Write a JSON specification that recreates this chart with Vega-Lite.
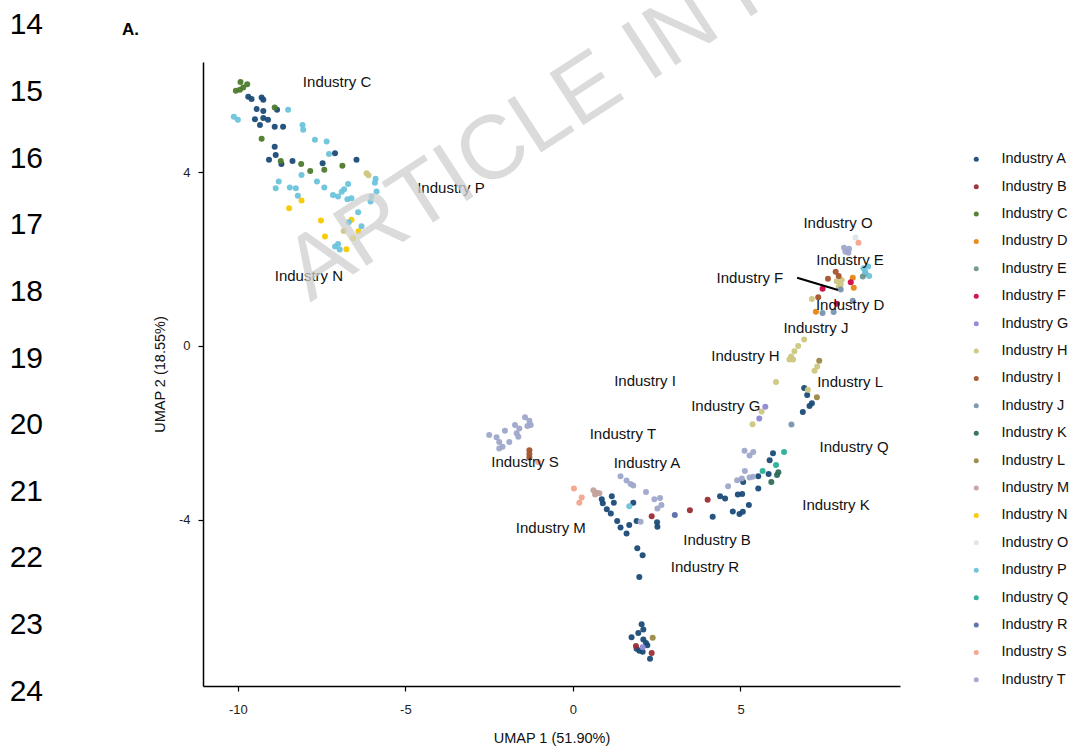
{
  "$schema": "https://vega.github.io/schema/vega-lite/v6.json",
  "width": 697,
  "height": 624,
  "autosize": {"type": "none"},
  "padding": {"left": 203, "top": 62, "right": 172, "bottom": 60},
  "background": "white",
  "config": {
    "view": {"stroke": null},
    "font": "Liberation Sans",
    "axis": {"grid": false, "domainColor": "#000", "domainWidth": 1.5, "tickColor": "#000", "tickWidth": 1.2, "tickSize": 5, "labelColor": "#222", "labelFontSize": 13, "titleFontSize": 14.5, "titleFontWeight": "normal", "titleColor": "#111", "labelFont": "Liberation Sans", "titleFont": "Liberation Sans"},
    "legend": {"labelFontSize": 14.5, "labelFont": "Liberation Sans", "labelColor": "#111", "symbolSize": 25, "symbolType": "circle", "rowPadding": 12.4, "labelOffset": 18, "symbolStrokeWidth": 0}
  },
  "datasets": {
    "pts": [
      {"x":-9.69,"y":5.74,"g":"Industry A"},{"x":-9.59,"y":5.69,"g":"Industry A"},{"x":-9.29,"y":5.72,"g":"Industry A"},{"x":-9.24,"y":5.67,"g":"Industry A"},{"x":-8.83,"y":5.44,"g":"Industry A"},{"x":-9.44,"y":5.46,"g":"Industry A"},{"x":-9.24,"y":5.41,"g":"Industry A"},{"x":-9.49,"y":5.22,"g":"Industry A"},{"x":-9.24,"y":5.25,"g":"Industry A"},{"x":-9.10,"y":5.21,"g":"Industry A"},{"x":-9.34,"y":5.09,"g":"Industry A"},{"x":-8.90,"y":5.05,"g":"Industry A"},{"x":-8.65,"y":5.05,"g":"Industry A"},{"x":-8.90,"y":4.59,"g":"Industry A"},{"x":-7.10,"y":4.44,"g":"Industry A"},{"x":-8.87,"y":4.40,"g":"Industry A"},{"x":-9.07,"y":4.29,"g":"Industry A"},{"x":-8.70,"y":4.19,"g":"Industry A"},{"x":-8.37,"y":4.26,"g":"Industry A"},{"x":-7.47,"y":4.21,"g":"Industry A"},{"x":-6.46,"y":4.29,"g":"Industry A"},
      {"x":0.86,"y":-3.53,"g":"Industry A"},{"x":0.89,"y":-3.62,"g":"Industry A"},{"x":1.16,"y":-3.46,"g":"Industry A"},{"x":1.22,"y":-3.61,"g":"Industry A"},{"x":1.01,"y":-3.76,"g":"Industry A"},{"x":1.13,"y":-3.86,"g":"Industry A"},{"x":1.32,"y":-4.03,"g":"Industry A"},{"x":1.42,"y":-4.18,"g":"Industry A"},{"x":1.60,"y":-4.32,"g":"Industry A"},{"x":1.68,"y":-4.12,"g":"Industry A"},{"x":1.90,"y":-4.03,"g":"Industry A"},{"x":1.80,"y":-3.61,"g":"Industry A"},{"x":2.51,"y":-4.06,"g":"Industry A"},{"x":2.52,"y":-4.16,"g":"Industry A"},{"x":1.92,"y":-4.66,"g":"Industry A"},{"x":2.08,"y":-4.82,"g":"Industry A"},{"x":1.98,"y":-5.32,"g":"Industry A"},{"x":4.17,"y":-3.93,"g":"Industry A"},{"x":4.39,"y":-3.46,"g":"Industry A"},{"x":4.54,"y":-3.51,"g":"Industry A"},{"x":4.77,"y":-3.81,"g":"Industry A"},{"x":4.97,"y":-3.87,"g":"Industry A"},{"x":5.07,"y":-3.82,"g":"Industry A"},{"x":5.25,"y":-3.66,"g":"Industry A"},{"x":4.92,"y":-3.42,"g":"Industry A"},{"x":5.05,"y":-3.41,"g":"Industry A"},{"x":5.08,"y":-3.13,"g":"Industry A"},{"x":5.53,"y":-3.28,"g":"Industry A"},{"x":5.53,"y":-3.00,"g":"Industry A"},{"x":5.84,"y":-2.95,"g":"Industry A"},{"x":5.87,"y":-2.63,"g":"Industry A"},{"x":5.97,"y":-2.47,"g":"Industry A"},
      {"x":2.05,"y":-6.41,"g":"Industry A"},{"x":2.10,"y":-6.53,"g":"Industry A"},{"x":1.95,"y":-6.61,"g":"Industry A"},{"x":1.75,"y":-6.71,"g":"Industry A"},{"x":2.10,"y":-6.76,"g":"Industry A"},{"x":2.18,"y":-6.84,"g":"Industry A"},{"x":1.90,"y":-6.97,"g":"Industry A"},{"x":1.98,"y":-7.02,"g":"Industry A"},{"x":2.08,"y":-7.04,"g":"Industry A"},{"x":2.30,"y":-7.20,"g":"Industry A"},{"x":2.22,"y":-6.89,"g":"Industry A"},
      {"x":6.90,"y":-0.97,"g":"Industry A"},{"x":6.99,"y":-1.13,"g":"Industry A"},{"x":7.13,"y":-1.32,"g":"Industry A"},{"x":7.06,"y":-1.38,"g":"Industry A"},{"x":6.86,"y":-1.52,"g":"Industry A"},
      {"x":2.35,"y":-3.92,"g":"Industry B"},{"x":3.49,"y":-3.78,"g":"Industry B"},{"x":4.02,"y":-3.54,"g":"Industry B"},{"x":1.88,"y":-6.91,"g":"Industry B"},{"x":2.35,"y":-7.07,"g":"Industry B"},
      {"x":-9.92,"y":6.08,"g":"Industry C"},{"x":-9.72,"y":6.03,"g":"Industry C"},{"x":-10.06,"y":5.88,"g":"Industry C"},{"x":-9.94,"y":5.90,"g":"Industry C"},{"x":-9.84,"y":5.95,"g":"Industry C"},{"x":-8.90,"y":5.49,"g":"Industry C"},{"x":-9.29,"y":4.77,"g":"Industry C"},{"x":-8.72,"y":4.26,"g":"Industry C"},{"x":-8.11,"y":4.19,"g":"Industry C"},{"x":-6.88,"y":4.15,"g":"Industry C"},{"x":-7.84,"y":4.03,"g":"Industry C"},{"x":-7.42,"y":4.06,"g":"Industry C"},
      {"x":8.35,"y":1.57,"g":"Industry D"},{"x":8.38,"y":1.34,"g":"Industry D"},{"x":7.25,"y":0.79,"g":"Industry D"},
      {"x":8.65,"y":1.60,"g":"Industry E"},{"x":8.73,"y":1.67,"g":"Industry E"},
      {"x":8.29,"y":1.47,"g":"Industry F"},{"x":7.45,"y":1.32,"g":"Industry F"},{"x":7.88,"y":0.97,"g":"Industry F"},
      {"x":5.74,"y":-1.40,"g":"Industry G"},{"x":5.56,"y":-1.67,"g":"Industry G"},{"x":2.08,"y":-6.94,"g":"Industry G"},
      {"x":-6.16,"y":3.98,"g":"Industry H"},{"x":-6.10,"y":3.93,"g":"Industry H"},{"x":-6.84,"y":2.65,"g":"Industry H"},{"x":7.87,"y":1.49,"g":"Industry H"},{"x":7.99,"y":1.41,"g":"Industry H"},{"x":8.02,"y":1.52,"g":"Industry H"},{"x":7.93,"y":1.36,"g":"Industry H"},{"x":7.13,"y":1.08,"g":"Industry H"},{"x":6.90,"y":0.15,"g":"Industry H"},{"x":6.72,"y":0.0,"g":"Industry H"},{"x":6.61,"y":-0.12,"g":"Industry H"},{"x":6.51,"y":-0.24,"g":"Industry H"},{"x":6.46,"y":-0.31,"g":"Industry H"},{"x":6.57,"y":-0.31,"g":"Industry H"},{"x":7.29,"y":-0.47,"g":"Industry H"},{"x":7.21,"y":-0.57,"g":"Industry H"},{"x":6.06,"y":-0.83,"g":"Industry H"},{"x":7.01,"y":-1.01,"g":"Industry H"},{"x":5.63,"y":-1.51,"g":"Industry H"},{"x":5.36,"y":-1.80,"g":"Industry H"},
      {"x":7.61,"y":1.55,"g":"Industry I"},{"x":7.84,"y":1.71,"g":"Industry I"},{"x":7.93,"y":1.61,"g":"Industry I"},{"x":7.32,"y":1.12,"g":"Industry I"},{"x":-1.30,"y":-2.40,"g":"Industry I"},{"x":-1.30,"y":-2.49,"g":"Industry I"},{"x":-1.30,"y":-2.57,"g":"Industry I"},
      {"x":7.99,"y":1.30,"g":"Industry J"},{"x":7.45,"y":0.76,"g":"Industry J"},{"x":7.78,"y":0.78,"g":"Industry J"},{"x":8.35,"y":1.04,"g":"Industry J"},{"x":6.52,"y":-1.81,"g":"Industry J"},
      {"x":5.92,"y":-3.13,"g":"Industry K"},{"x":6.09,"y":-2.97,"g":"Industry K"},{"x":6.13,"y":-2.91,"g":"Industry K"},
      {"x":7.35,"y":-0.34,"g":"Industry L"},{"x":7.28,"y":-1.18,"g":"Industry L"},{"x":2.38,"y":-6.72,"g":"Industry L"},
      {"x":0.61,"y":-3.32,"g":"Industry M"},{"x":0.71,"y":-3.38,"g":"Industry M"},{"x":0.79,"y":-3.39,"g":"Industry M"},{"x":0.66,"y":-3.42,"g":"Industry M"},
      {"x":-8.10,"y":3.35,"g":"Industry N"},{"x":-8.47,"y":3.17,"g":"Industry N"},{"x":-7.52,"y":2.89,"g":"Industry N"},{"x":-7.40,"y":2.52,"g":"Industry N"},{"x":-6.76,"y":2.23,"g":"Industry N"},{"x":-6.61,"y":2.91,"g":"Industry N"},{"x":-6.40,"y":2.64,"g":"Industry N"},{"x":-6.56,"y":2.48,"g":"Industry N"},
      {"x":8.43,"y":2.50,"g":"Industry O"},
      {"x":-10.12,"y":5.28,"g":"Industry P"},{"x":-10.00,"y":5.21,"g":"Industry P"},{"x":-8.50,"y":5.44,"g":"Industry P"},{"x":-8.07,"y":5.09,"g":"Industry P"},{"x":-8.05,"y":4.98,"g":"Industry P"},{"x":-7.70,"y":4.75,"g":"Industry P"},{"x":-7.35,"y":4.71,"g":"Industry P"},{"x":-7.28,"y":4.42,"g":"Industry P"},{"x":-8.10,"y":3.94,"g":"Industry P"},{"x":-8.78,"y":3.79,"g":"Industry P"},{"x":-8.87,"y":3.63,"g":"Industry P"},{"x":-8.45,"y":3.65,"g":"Industry P"},{"x":-8.27,"y":3.63,"g":"Industry P"},{"x":-8.21,"y":3.46,"g":"Industry P"},{"x":-7.64,"y":3.79,"g":"Industry P"},{"x":-7.42,"y":3.65,"g":"Industry P"},{"x":-7.16,"y":3.48,"g":"Industry P"},{"x":-7.01,"y":3.44,"g":"Industry P"},{"x":-6.83,"y":3.61,"g":"Industry P"},{"x":-6.71,"y":3.73,"g":"Industry P"},{"x":-6.90,"y":3.55,"g":"Industry P"},{"x":-6.73,"y":3.38,"g":"Industry P"},{"x":-6.61,"y":3.40,"g":"Industry P"},{"x":-5.89,"y":3.85,"g":"Industry P"},{"x":-5.91,"y":3.76,"g":"Industry P"},{"x":-5.86,"y":3.56,"g":"Industry P"},{"x":-6.01,"y":3.44,"g":"Industry P"},{"x":-6.04,"y":3.33,"g":"Industry P"},{"x":-6.41,"y":3.08,"g":"Industry P"},{"x":-6.69,"y":2.85,"g":"Industry P"},{"x":-6.31,"y":2.76,"g":"Industry P"},{"x":-7.10,"y":2.29,"g":"Industry P"},{"x":-6.96,"y":2.22,"g":"Industry P"},{"x":-7.01,"y":2.35,"g":"Industry P"},
      {"x":8.67,"y":1.79,"g":"Industry P"},{"x":8.81,"y":1.83,"g":"Industry P"},{"x":8.84,"y":1.61,"g":"Industry P"},{"x":8.72,"y":1.71,"g":"Industry P"},{"x":1.68,"y":-3.69,"g":"Industry P"},
      {"x":6.30,"y":-2.44,"g":"Industry Q"},{"x":6.06,"y":-2.74,"g":"Industry Q"},{"x":5.66,"y":-2.88,"g":"Industry Q"},
      {"x":3.04,"y":-3.89,"g":"Industry R"},
      {"x":0.03,"y":-3.28,"g":"Industry S"},{"x":0.26,"y":-3.49,"g":"Industry S"},{"x":0.19,"y":-3.61,"g":"Industry S"},{"x":8.52,"y":2.38,"g":"Industry S"},{"x":-1.04,"y":-2.67,"g":"Industry S"},
      {"x":8.09,"y":2.26,"g":"Industry T"},{"x":8.24,"y":2.24,"g":"Industry T"},{"x":8.22,"y":2.15,"g":"Industry T"},{"x":8.13,"y":2.17,"g":"Industry T"},
      {"x":-2.50,"y":-2.05,"g":"Industry T"},{"x":-2.28,"y":-2.10,"g":"Industry T"},{"x":-2.20,"y":-2.21,"g":"Industry T"},{"x":-2.10,"y":-2.32,"g":"Industry T"},{"x":-2.20,"y":-2.36,"g":"Industry T"},{"x":-2.03,"y":-1.95,"g":"Industry T"},{"x":-1.90,"y":-2.21,"g":"Industry T"},{"x":-1.73,"y":-1.82,"g":"Industry T"},{"x":-1.60,"y":-1.90,"g":"Industry T"},{"x":-1.68,"y":-2.01,"g":"Industry T"},{"x":-1.43,"y":-1.64,"g":"Industry T"},{"x":-1.30,"y":-1.72,"g":"Industry T"},{"x":-1.26,"y":-1.82,"g":"Industry T"},{"x":-1.36,"y":-1.84,"g":"Industry T"},{"x":-1.63,"y":-2.09,"g":"Industry T"},
      {"x":1.42,"y":-3.00,"g":"Industry T"},{"x":1.60,"y":-3.10,"g":"Industry T"},{"x":1.72,"y":-3.18,"g":"Industry T"},{"x":1.80,"y":-3.21,"g":"Industry T"},{"x":2.18,"y":-3.36,"g":"Industry T"},{"x":2.43,"y":-3.53,"g":"Industry T"},{"x":2.60,"y":-3.50,"g":"Industry T"},{"x":2.64,"y":-3.66,"g":"Industry T"},{"x":2.52,"y":-3.74,"g":"Industry T"},{"x":2.02,"y":-4.05,"g":"Industry T"},
      {"x":4.63,"y":-3.23,"g":"Industry T"},{"x":4.90,"y":-3.09,"g":"Industry T"},{"x":5.04,"y":-3.05,"g":"Industry T"},{"x":5.13,"y":-2.88,"g":"Industry T"},{"x":5.27,"y":-3.03,"g":"Industry T"},{"x":5.37,"y":-3.01,"g":"Industry T"},{"x":5.12,"y":-2.41,"g":"Industry T"},{"x":5.38,"y":-2.44,"g":"Industry T"},{"x":5.27,"y":-2.52,"g":"Industry T"}
    ],
    "labels": [
      {"x":-7.04,"y":6.08,"t":"Industry C"},{"x":-3.64,"y":3.64,"t":"Industry P"},{"x":-7.88,"y":1.61,"t":"Industry N"},{"x":7.91,"y":2.83,"t":"Industry O"},{"x":8.27,"y":1.98,"t":"Industry E"},{"x":5.28,"y":1.57,"t":"Industry F"},{"x":8.27,"y":0.94,"t":"Industry D"},{"x":7.25,"y":0.41,"t":"Industry J"},{"x":5.15,"y":-0.23,"t":"Industry H"},{"x":2.15,"y":-0.81,"t":"Industry I"},{"x":8.27,"y":-0.83,"t":"Industry L"},{"x":4.56,"y":-1.38,"t":"Industry G"},{"x":1.49,"y":-2.02,"t":"Industry T"},{"x":8.39,"y":-2.33,"t":"Industry Q"},{"x":-1.43,"y":-2.67,"t":"Industry S"},{"x":2.21,"y":-2.69,"t":"Industry A"},{"x":7.85,"y":-3.66,"t":"Industry K"},{"x":-0.66,"y":-4.19,"t":"Industry M"},{"x":4.30,"y":-4.47,"t":"Industry B"},{"x":3.94,"y":-5.09,"t":"Industry R"}
    ],
    "lines": [
      {"n":"14","x":-16.81,"y":7.40},{"n":"15","x":-16.81,"y":5.85},{"n":"16","x":-16.81,"y":4.31},{"n":"17","x":-16.81,"y":2.79},{"n":"18","x":-16.81,"y":1.24},{"n":"19","x":-16.81,"y":-0.30},{"n":"20","x":-16.81,"y":-1.82},{"n":"21","x":-16.81,"y":-3.36},{"n":"22","x":-16.81,"y":-4.88},{"n":"23","x":-16.81,"y":-6.43},{"n":"24","x":-16.81,"y":-7.97}
    ]
  },
  "layer": [
    {
      "data": {"name": "pts"},
      "mark": {"type": "circle", "size": 36, "opacity": 0.95},
      "encoding": {
        "x": {"field": "x", "type": "quantitative", "scale": {"domain": [-11.04, 9.76], "nice": false, "zero": false}, "axis": {"values": [-10, -5, 0, 5], "labelExpr": "replace(datum.label, '−', '-')", "title": "UMAP 1 (51.90%)", "labelPadding": 12, "titlePadding": 15}},
        "y": {"field": "y", "type": "quantitative", "scale": {"domain": [-7.83, 6.54], "nice": false, "zero": false}, "axis": {"values": [-4, 0, 4], "labelExpr": "replace(datum.label, '−', '-')", "title": "UMAP 2 (18.55%)", "labelPadding": 8, "titlePadding": 11}},
        "color": {"field": "g", "type": "nominal", "scale": {"domain": ["Industry A","Industry B","Industry C","Industry D","Industry E","Industry F","Industry G","Industry H","Industry I","Industry J","Industry K","Industry L","Industry M","Industry N","Industry O","Industry P","Industry Q","Industry R","Industry S","Industry T"], "range": ["#1b4b78","#9a2d35","#4e7a2c","#e8850f","#6d978b","#cf0a45","#8e87d6","#cec77f","#a4532c","#7893ae","#2f6b5c","#9a8946","#c3a19c","#f6c900","#dde5ea","#6ac3dc","#2aaf97","#5a6ea6","#f4a48a","#9fa8cb"]}, "legend": {"title": null, "orient": "none", "legendX": 766, "legendY": 90}}
      }
    },
    {
      "data": {"values": [{"x":6.69,"y":1.57,"x2":7.91,"y2":1.29}]},
      "mark": {"type": "rule", "color": "#000", "strokeWidth": 2},
      "encoding": {"x": {"field": "x", "type": "quantitative"}, "y": {"field": "y", "type": "quantitative"}, "x2": {"field": "x2"}, "y2": {"field": "y2"}}
    },
    {
      "data": {"name": "labels"},
      "mark": {"type": "text", "fontSize": 15, "color": "#111", "align": "center", "baseline": "middle", "font": "Liberation Sans"},
      "encoding": {"x": {"field": "x", "type": "quantitative"}, "y": {"field": "y", "type": "quantitative"}, "text": {"field": "t"}}
    },
    {
      "data": {"name": "lines"},
      "mark": {"type": "text", "fontSize": 30, "color": "#000", "align": "left", "baseline": "middle", "font": "Liberation Sans"},
      "encoding": {"x": {"field": "x", "type": "quantitative"}, "y": {"field": "y", "type": "quantitative"}, "text": {"field": "n"}}
    },
    {
      "data": {"values": [{"t":"A.","x":-13.46,"y":7.28}]},
      "mark": {"type": "text", "fontSize": 17, "fontWeight": "bold", "color": "#000", "align": "left", "baseline": "middle", "font": "Liberation Sans"},
      "encoding": {"x": {"field": "x", "type": "quantitative"}, "y": {"field": "y", "type": "quantitative"}, "text": {"field": "t"}}
    },
    {
      "data": {"values": [{"t":"ARTICLE IN PRESS","x":-7.85,"y":1.0}]},
      "mark": {"type": "text", "fontSize": 90, "angle": -33, "color": "#d0d0d0", "opacity": 0.75, "align": "left", "baseline": "alphabetic", "font": "Liberation Sans"},
      "encoding": {"x": {"field": "x", "type": "quantitative"}, "y": {"field": "y", "type": "quantitative"}, "text": {"field": "t"}}
    }
  ]
}
